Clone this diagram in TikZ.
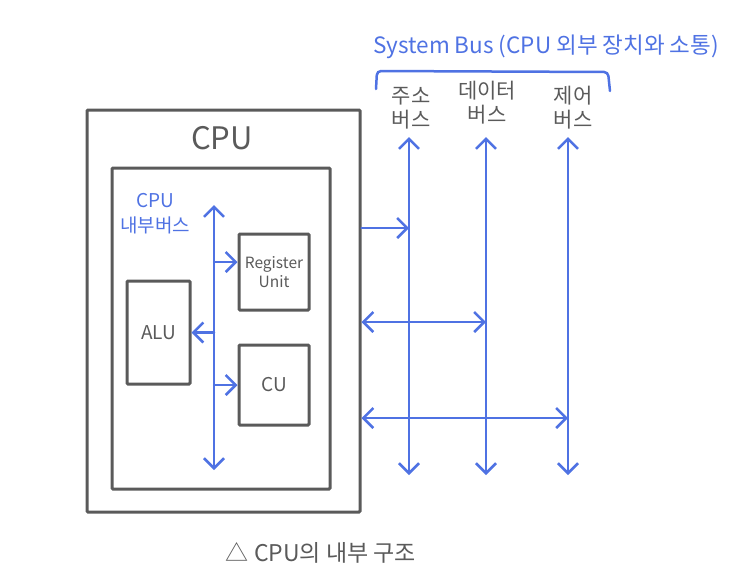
\documentclass[tikz,border=0pt]{standalone}
\usepackage{fontspec}
\setmainfont{Noto Sans CJK KR}
\usepackage{tikz}
\usetikzlibrary{arrows.meta,positioning}

\definecolor{boxgray}{HTML}{5A5A5A}
\definecolor{busblue}{HTML}{4F72E3}

\begin{document}
\begin{tikzpicture}[
  x=1pt, y=-1pt,
  box/.style={draw=boxgray, line width=3pt, rounded corners=1pt, inner sep=0pt},
  lbl/.style={text=boxgray, align=center, inner sep=0pt},
  bluelbl/.style={text=busblue, align=center, inner sep=0pt},
  bus/.style={draw=busblue, line width=2.5pt, line cap=round},
  arr/.style={bus, -{Straight Barb[length=10pt, width=20pt, line width=2.5pt]}},
  darr/.style={bus, {Straight Barb[length=10pt, width=20pt, line width=2.5pt]}-{Straight Barb[length=10pt, width=20pt, line width=2.5pt]}}
]
\useasboundingbox (0,0) rectangle (748,587);
% CPU boxes
\node[box, minimum width=273pt, minimum height=402pt] (cpu) at (223.5,311) {};
\node[lbl, font=\fontsize{31}{34}\selectfont] (cputitle) at (222,138) {CPU};
\node[box, minimum width=218pt, minimum height=321pt] (inner) at (221,328.5) {};
\node[bluelbl, font=\fontsize{19}{25}\selectfont] (ibuslbl) at (155,214) {CPU\\내부버스};
\node[box, minimum width=70pt, minimum height=76pt] (reg) at (274,272) {};
\node[lbl, font=\fontsize{15.5}{19}\selectfont] at (reg) {Register\\Unit};
\node[box, minimum width=63pt, minimum height=103pt] (alu) at (158.5,332.5) {};
\node[lbl, font=\fontsize{19}{22}\selectfont] at (alu) {ALU};
\node[box, minimum width=70pt, minimum height=80pt] (cu) at (274,385) {};
\node[lbl, font=\fontsize{19}{22}\selectfont] at (cu) {CU};
% internal bus
\coordinate (ibtop) at (214,205);
\coordinate (ibbot) at (214,470);
\draw[darr] (ibtop) -- (ibbot);
\draw[arr] (ibtop |- 0,262) -- (reg.west |- 0,262);
\draw[arr] (ibtop |- alu) -- (alu.east);
\draw[arr] (ibtop |- cu) -- (cu.west);
% system bus
\node[bluelbl, anchor=west, font=\fontsize{22.5}{26}\selectfont] (sbus) at (373,47) {System Bus (CPU 외부 장치와 소통)};
\draw[draw=busblue, line width=2.5pt, line cap=round, rounded corners=4pt]
  (376,89) -- (377,71) -- (608,72) -- (610,91);
\node[lbl, font=\fontsize{21}{24}\selectfont] (addr) at (411,108) {주소\\버스};
\node[lbl, font=\fontsize{21}{24}\selectfont] (data) at (487,103) {데이터\\버스};
\node[lbl, font=\fontsize{21}{24}\selectfont] (ctrl) at (573,108) {제어\\버스};
\coordinate (atop) at (409,137);
\coordinate (abot) at (409,475);
\coordinate (dtop) at (486,137);
\coordinate (dbot) at (486,475);
\coordinate (ctop) at (568,137);
\coordinate (cbot) at (568,475);
\draw[darr] (atop) -- (abot);
\draw[darr] (dtop) -- (dbot);
\draw[darr] (ctop) -- (cbot);
\draw[arr] (cpu.east |- 0,228) -- (atop |- 0,228);
\draw[darr] (cpu.east |- 0,322) -- (dtop |- 0,322);
\draw[darr] (cpu.east |- 0,418) -- (ctop |- 0,418);
% caption
\node[lbl, font=\fontsize{23}{26}\selectfont] (caption) at (321,553) {△ CPU의 내부 구조};
\end{tikzpicture}
\end{document}
